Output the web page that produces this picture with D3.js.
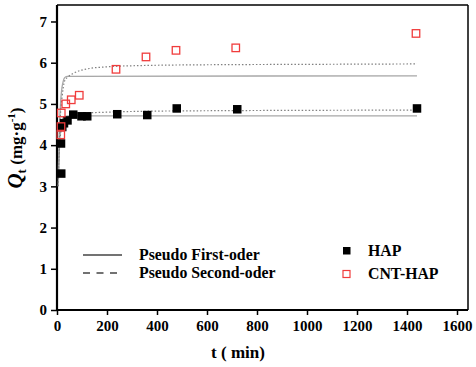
<!DOCTYPE html>
<html><head><meta charset="utf-8">
<script src="https://cdn.jsdelivr.net/npm/d3@7"></script>
<style>body{margin:0;background:#fff}svg{display:block}</style>
</head><body>
<script>
// Experimental data
const hapT = [17, 16, 21, 28, 42, 65, 98, 121, 241, 361, 479, 721, 1440];
const hapQ = [3.31, 4.04, 4.44, 4.53, 4.60, 4.74, 4.70, 4.70, 4.75, 4.73, 4.89, 4.87, 4.89];
const cntT = [15, 16, 17, 35, 57, 89, 236, 356, 476, 715, 1436];
const cntQ = [4.25, 4.45, 4.78, 5.00, 5.10, 5.21, 5.84, 6.14, 6.30, 6.36, 6.71];
// Fitted curves
const pfoHapT = [5, 10, 15, 20, 30, 45, 60, 1440];
const pfoHapQ = [3.0, 4.0, 4.45, 4.62, 4.69, 4.71, 4.71, 4.71];
const psoHapT = [5, 10, 15, 20, 30, 45, 60, 100, 200, 480, 1440];
const psoHapQ = [3.2, 3.95, 4.3, 4.45, 4.6, 4.68, 4.72, 4.77, 4.80, 4.83, 4.85];
const pfoCntT = [5, 10, 15, 20, 25, 30, 40, 1440];
const pfoCntQ = [3.3, 4.5, 5.1, 5.4, 5.55, 5.63, 5.67, 5.68];
const psoCntT = [5, 10, 15, 20, 30, 45, 65, 130, 200, 330, 600, 1000, 1440];
const psoCntQ = [3.0, 4.2, 4.85, 5.15, 5.55, 5.66, 5.74, 5.86, 5.90, 5.93, 5.95, 5.96, 5.97];
const xTicks = [0, 200, 400, 600, 800, 1000, 1200, 1400, 1600];
const yTicks = [0, 1, 2, 3, 4, 5, 6, 7];

const W = 476, H = 367;
const svg = d3.select("body").append("svg").attr("width", W).attr("height", H);
const x = d3.scaleLinear().domain([0, 1644]).range([57, 468]);
const y = d3.scaleLinear().domain([0, 7.4]).range([310, 5]);
const font = "'Liberation Serif','Times New Roman',serif";

// frame top/right
svg.append("line").attr("x1", 57).attr("x2", 468).attr("y1", 5).attr("y2", 5).attr("stroke", "#000").attr("stroke-width", 1.5);
svg.append("line").attr("x1", 468).attr("x2", 468).attr("y1", 5).attr("y2", 310).attr("stroke", "#000").attr("stroke-width", 1.5);

// axes
const xa = svg.append("g").attr("transform", "translate(0,310)")
  .call(d3.axisBottom(x).tickValues(xTicks).tickSize(5).tickPadding(5).tickFormat(d3.format("d")));
const ya = svg.append("g").attr("transform", "translate(57,0)")
  .call(d3.axisLeft(y).tickValues(yTicks).tickSize(6).tickPadding(4).tickFormat(d3.format("d")));
[xa, ya].forEach(g => {
  g.selectAll(".tick line").attr("stroke-width", 1.5);
  g.selectAll("text").attr("font-family", font).attr("font-weight", "bold").attr("font-size", 15).attr("fill", "#000");
  g.select(".domain").remove();
});
svg.append("line").attr("x1", 57).attr("x2", 57).attr("y1", 5).attr("y2", 311).attr("stroke", "#000").attr("stroke-width", 2.2);
svg.append("line").attr("x1", 56).attr("x2", 468).attr("y1", 310).attr("y2", 310).attr("stroke", "#000").attr("stroke-width", 2.2);

// curves
const line = d3.line().x(d => x(d[0])).y(d => y(d[1])).curve(d3.curveMonotoneX);
function curve(ts, qs, solid) {
  svg.append("path").datum(ts.map((t, i) => [t, qs[i]])).attr("d", line)
    .attr("fill", "none").attr("stroke", solid ? "#a8a8a8" : "#808080")
    .attr("stroke-width", solid ? 1.3 : 1.2)
    .attr("stroke-dasharray", solid ? null : "1.5,2");
}
curve(pfoHapT, pfoHapQ, true);
curve(pfoCntT, pfoCntQ, true);
curve(psoHapT, psoHapQ, false);
curve(psoCntT, psoCntQ, false);

// markers
const s = 8.5;
svg.append("g").selectAll("rect").data(hapT.map((t, i) => [t, hapQ[i]])).join("rect")
  .attr("x", d => x(d[0]) - s / 2).attr("y", d => y(d[1]) - s / 2)
  .attr("width", s).attr("height", s).attr("fill", "#000");
const r = 7.5;
svg.append("g").selectAll("rect").data(cntT.map((t, i) => [t, cntQ[i]])).join("rect")
  .attr("x", d => x(d[0]) - r / 2).attr("y", d => y(d[1]) - r / 2)
  .attr("width", r).attr("height", r).attr("fill", "none").attr("stroke", "#f03c3c").attr("stroke-width", 1.3);

// legend
const lg = svg.append("g").attr("font-family", font).attr("font-weight", "bold").attr("font-size", 15.8).attr("fill", "#000");
lg.append("line").attr("x1", 83).attr("x2", 122).attr("y1", 255).attr("y2", 255).attr("stroke", "#444").attr("stroke-width", 1.3);
lg.append("line").attr("x1", 83).attr("x2", 117).attr("y1", 273).attr("y2", 273).attr("stroke", "#444").attr("stroke-width", 1.3).attr("stroke-dasharray", "7,6.5");
lg.append("text").attr("x", 139).attr("y", 260).text("Pseudo First-oder");
lg.append("text").attr("x", 139).attr("y", 278).text("Pseudo Second-oder");
lg.append("rect").attr("x", 343).attr("y", 247).attr("width", 7.5).attr("height", 7.5).attr("fill", "#000");
lg.append("rect").attr("x", 343).attr("y", 270.5).attr("width", 7).attr("height", 7).attr("fill", "none").attr("stroke", "#f03c3c").attr("stroke-width", 1.2);
lg.append("text").attr("x", 368).attr("y", 256).text("HAP");
lg.append("text").attr("x", 368).attr("y", 279).text("CNT-HAP");

// axis titles
svg.append("text").attr("x", 238).attr("y", 358).attr("text-anchor", "middle")
  .attr("font-family", font).attr("font-weight", "bold").attr("font-size", 17).text("t ( min)");
const yl = svg.append("text").attr("transform", "translate(22,148) rotate(-90)").attr("text-anchor", "middle")
  .attr("font-family", font).attr("font-weight", "bold").attr("font-size", 17);
yl.append("tspan").attr("font-style", "italic").attr("font-size", 21).text("Q");
yl.append("tspan").attr("font-size", 13).attr("dy", 4).text("t");
yl.append("tspan").attr("dy", -4).text(" (mg\u00B7g");
yl.append("tspan").attr("font-size", 11).attr("dy", -7).text("-1");
yl.append("tspan").attr("dy", 7).text(")");
</script>
</body></html>
